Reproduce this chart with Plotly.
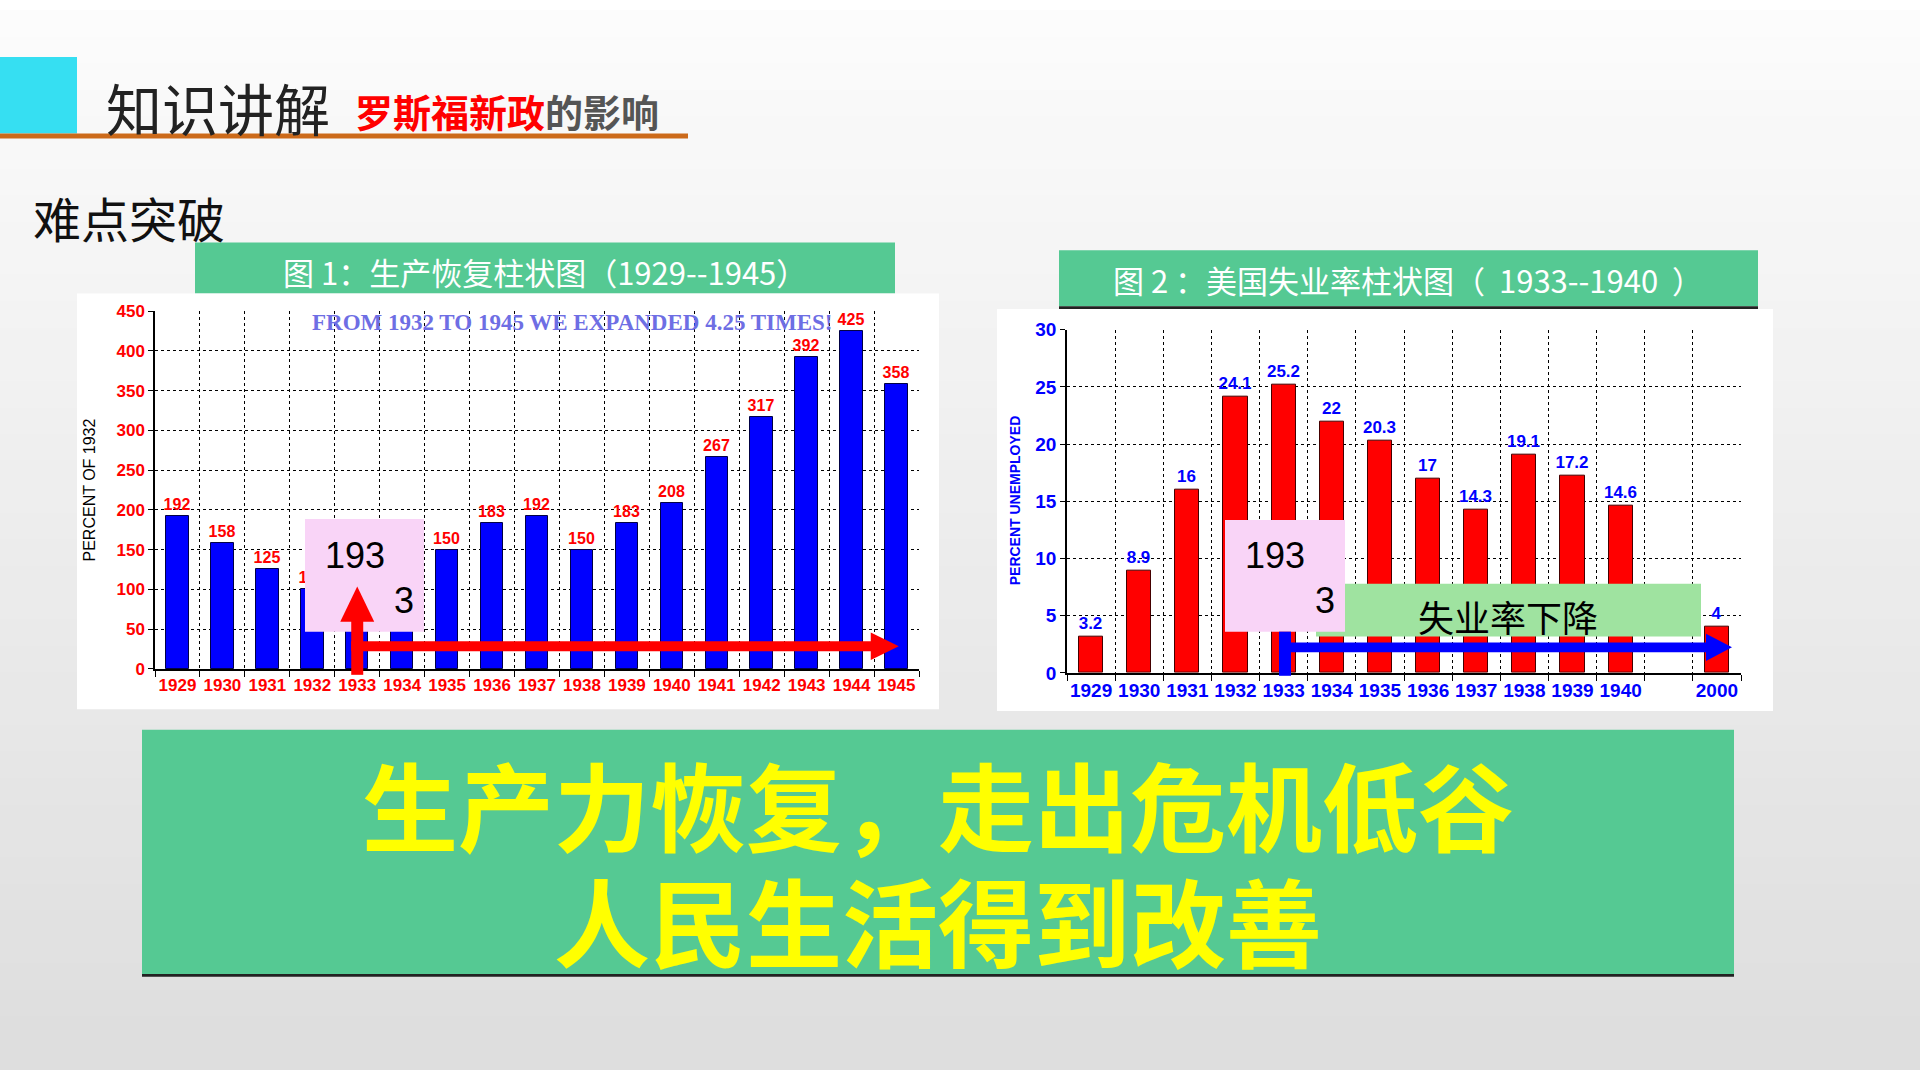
import plotly.graph_objects as go

W, H = 1920, 1080

# ---------------- data ----------------
years1 = ['1929', '1930', '1931', '1932', '1933', '1934', '1935', '1936', '1937',
          '1938', '1939', '1940', '1941', '1942', '1943', '1944', '1945']
production = [192, 158, 125, 100, 120, 133, 150, 183, 192, 150, 183, 208, 267, 317, 392, 425, 358]

years2 = ['1929', '1930', '1931', '1932', '1933', '1934', '1935', '1936', '1937',
          '1938', '1939', '1940', '2000']
slots2 = [0, 1, 2, 3, 4, 5, 6, 7, 8, 9, 10, 11, 13]
unemployment = [3.2, 8.9, 16, 24.1, 25.2, 22, 20.3, 17, 14.3, 19.1, 17.2, 14.6, 4]
unemp_labels = ['3.2', '8.9', '16', '24.1', '25.2', '22', '20.3', '17', '14.3', '19.1', '17.2', '14.6', '4']

# ---------------- geometry (pixels) ----------------
P1 = dict(x0=155, x1=919, ytop=307, ybot=672, xr=(-0.5, 16.5), yr=(0, 450))
P2 = dict(x0=1067, x1=1741, ytop=326, ybot=676, xr=(-0.5, 13.5), yr=(0, 30))

NARROW = "Liberation Sans Narrow, Arial Narrow, Liberation Sans, Arial, sans-serif"
CJK = "Noto Sans CJK SC, sans-serif"
GREEN = "#55c993"


def px(x):
    return x / W


def py(y):
    return 1 - y / H


def dx(P, v):
    return P['x0'] + (v - P['xr'][0]) / (P['xr'][1] - P['xr'][0]) * (P['x1'] - P['x0'])


def dy(P, v):
    return P['ybot'] - (v - P['yr'][0]) / (P['yr'][1] - P['yr'][0]) * (P['ybot'] - P['ytop'])


shapes = []


def rect(x0, y0, x1, y1, color, layer='below', line=None):
    shapes.append(dict(type='rect', xref='paper', yref='paper', x0=px(x0), x1=px(x1),
                       y0=py(y1), y1=py(y0), fillcolor=color, layer=layer,
                       line=dict(width=0) if line is None else line))


def poly(pts, color, layer='above'):
    path = 'M ' + ' L '.join(f'{px(a):.5f},{py(b):.5f}' for a, b in pts) + ' Z'
    shapes.append(dict(type='path', xref='paper', yref='paper', path=path,
                       fillcolor=color, line=dict(width=0), layer=layer))


# background gradient
n = 40
for i in range(n):
    t = i / (n - 1)
    c = int(252 - 30 * t)
    rect(0, i * H / n, W, (i + 1) * H / n + 1, f'rgb({c},{c},{c})')

# header decorations
rect(0, 48, 77, 126, '#36dff2')
rect(0, 126, 688, 131, '#cc6a1a')

# green headers and white panels
rect(195, 237, 895, 289, GREEN)
rect(77, 289, 939, 713, 'white')
rect(1059, 245, 1758, 302, GREEN)
rect(1059, 302, 1758, 305, '#222222')
rect(997, 305, 1773, 715, 'white')

# bottom box
rect(142, 734, 1734, 983, GREEN)
rect(142, 983, 1734, 986, '#222222')

# chart 1 overlays
rect(305, 519, 424, 634, '#f9d4f7', layer='above')
vx = dx(P1, 4)
rect(vx - 6, 622, vx + 6, 678, '#ff0000', layer='above')
poly([(vx - 17, 624), (vx + 17, 624), (vx, 588)], '#ff0000')
hy = dy(P1, 28.5)
tip = dx(P1, 16.05)
rect(vx - 6, hy - 5, tip - 26, hy + 5, '#ff0000', layer='above')
poly([(tip - 28, hy - 14), (tip - 28, hy + 14), (tip, hy)], '#ff0000')

# chart 2 overlays
rect(1316, 585, 1701, 639, '#9fe3a0', layer='above')
rect(1225, 520, 1345, 634, '#f9d4f7', layer='above')
bx = 1285
rect(bx - 6, 634, bx + 6, 679, '#0000ff', layer='above')
by = 650
btip = 1732
rect(bx - 6, by - 5, btip - 24, by + 5, '#0000ff', layer='above')
poly([(btip - 26, by - 14), (btip - 26, by + 14), (btip, by)], '#0000ff')

# ---------------- traces ----------------
fig = go.Figure()
fig.add_trace(go.Bar(
    x=list(range(len(years1))), y=production, width=0.5,
    marker=dict(color='#0000ff', line=dict(color='#000044', width=1)),
    text=[str(v) for v in production], textposition='outside', cliponaxis=False,
    constraintext='none',
    textfont=dict(family=NARROW, size=16, color='#ff0000', weight='bold'),
    xaxis='x', yaxis='y', showlegend=False, hoverinfo='skip'))

fig.add_trace(go.Bar(
    x=slots2, y=unemployment, width=0.5,
    marker=dict(color='#ff0000', line=dict(color='#440000', width=1)),
    text=unemp_labels, textposition='outside', cliponaxis=False,
    constraintext='none',
    textfont=dict(family=NARROW, size=17, color='#0000ff', weight='bold'),
    xaxis='x2', yaxis='y2', showlegend=False, hoverinfo='skip'))


def xaxis(P, vals, labels, color, size, anchor):
    nb = int(P['xr'][1] - P['xr'][0]) + 1
    return dict(domain=[px(P['x0']), px(P['x1'])], range=list(P['xr']), anchor=anchor,
                tickmode='array', tickvals=vals, ticktext=labels, showgrid=False, ticks='',
                tickangle=0, showline=True, linecolor='black', linewidth=1.5, zeroline=False,
                tickfont=dict(family=NARROW, size=size, color=color, weight='bold'),
                minor=dict(tickmode='array', tickvals=[P['xr'][0] + i for i in range(nb)],
                           showgrid=True, gridcolor='black', griddash='dot', gridwidth=1,
                           ticks='outside', ticklen=6, tickcolor='black'))


def yaxis(P, dtick, color, size, anchor):
    return dict(domain=[py(P['ybot']), py(P['ytop'])], range=list(P['yr']), anchor=anchor,
                tickmode='linear', tick0=0, dtick=dtick, showgrid=True, gridcolor='black',
                griddash='dot', gridwidth=1, showline=True, linecolor='black', linewidth=1.5,
                ticks='outside', ticklen=5, tickcolor='black', zeroline=False,
                tickfont=dict(family=NARROW, size=size, color=color, weight='bold'))


annotations = []


def text(x, y, s, size, color='black', family=CJK, weight='normal', angle=0, xanchor='center'):
    annotations.append(dict(x=px(x), y=py(y), xref='paper', yref='paper', text=s,
                            showarrow=False, xanchor=xanchor, yanchor='middle', textangle=angle,
                            font=dict(family=family, size=size, color=color, weight=weight)))


text(104, 98, '知识讲解', 56, '#222222', xanchor='left')
text(353, 103, "<span style='color:#ff0000'>罗斯福新政</span><span style='color:#555555'>的影响</span>",
     38, weight='bold', xanchor='left')
text(31, 211, '难点突破', 48, '#111111', xanchor='left')
text(545, 267, '图 1：生产恢复柱状图（1929--1945）', 31, 'white')
text(1408, 275, '图 2 ：美国失业率柱状图（  1933--1940  ）', 31, 'white')

text(572, 319, 'FROM 1932 TO 1945 WE EXPANDED 4.25 TIMES!', 23, '#6e6ee4',
     family='Liberation Serif, DejaVu Serif, serif', weight='bold')
text(89, 490, 'PERCENT OF 1932', 16, 'black', family='Liberation Sans, Arial, sans-serif', angle=-90)
text(1015, 500, 'PERCENT UNEMPLOYED', 14, '#0000ff', family='Liberation Sans, Arial, sans-serif',
     weight='bold', angle=-90)

DIG = 'Liberation Sans, Arial, sans-serif'
text(355, 556, '193', 36, 'black', family=DIG)
text(404, 602, '3', 36, 'black', family=DIG)
text(1275, 556, '193', 36, 'black', family=DIG)
text(1325, 602, '3', 36, 'black', family=DIG)
text(1508, 618, '失业率下降', 36, 'black')

text(938, 808, '生产力恢复，走出危机低谷', 96, '#ffff00', weight='bold')
text(938, 927, '人民生活得到改善', 96, '#ffff00', weight='bold')

fig.update_layout(
    width=W, height=H, margin=dict(l=0, r=0, t=0, b=0, pad=0),
    paper_bgcolor='white', plot_bgcolor='white', bargap=0,
    xaxis=xaxis(P1, list(range(len(years1))), years1, '#ff0000', 17, 'y'),
    yaxis=yaxis(P1, 50, '#ff0000', 17, 'x'),
    xaxis2=xaxis(P2, slots2, years2, '#0000ff', 19, 'y2'),
    yaxis2=yaxis(P2, 5, '#0000ff', 19, 'x2'),
    shapes=shapes, annotations=annotations,
)

fig.write_html('out.html',
               post_script="document.body.style.margin='0';document.body.style.overflow='hidden';")
